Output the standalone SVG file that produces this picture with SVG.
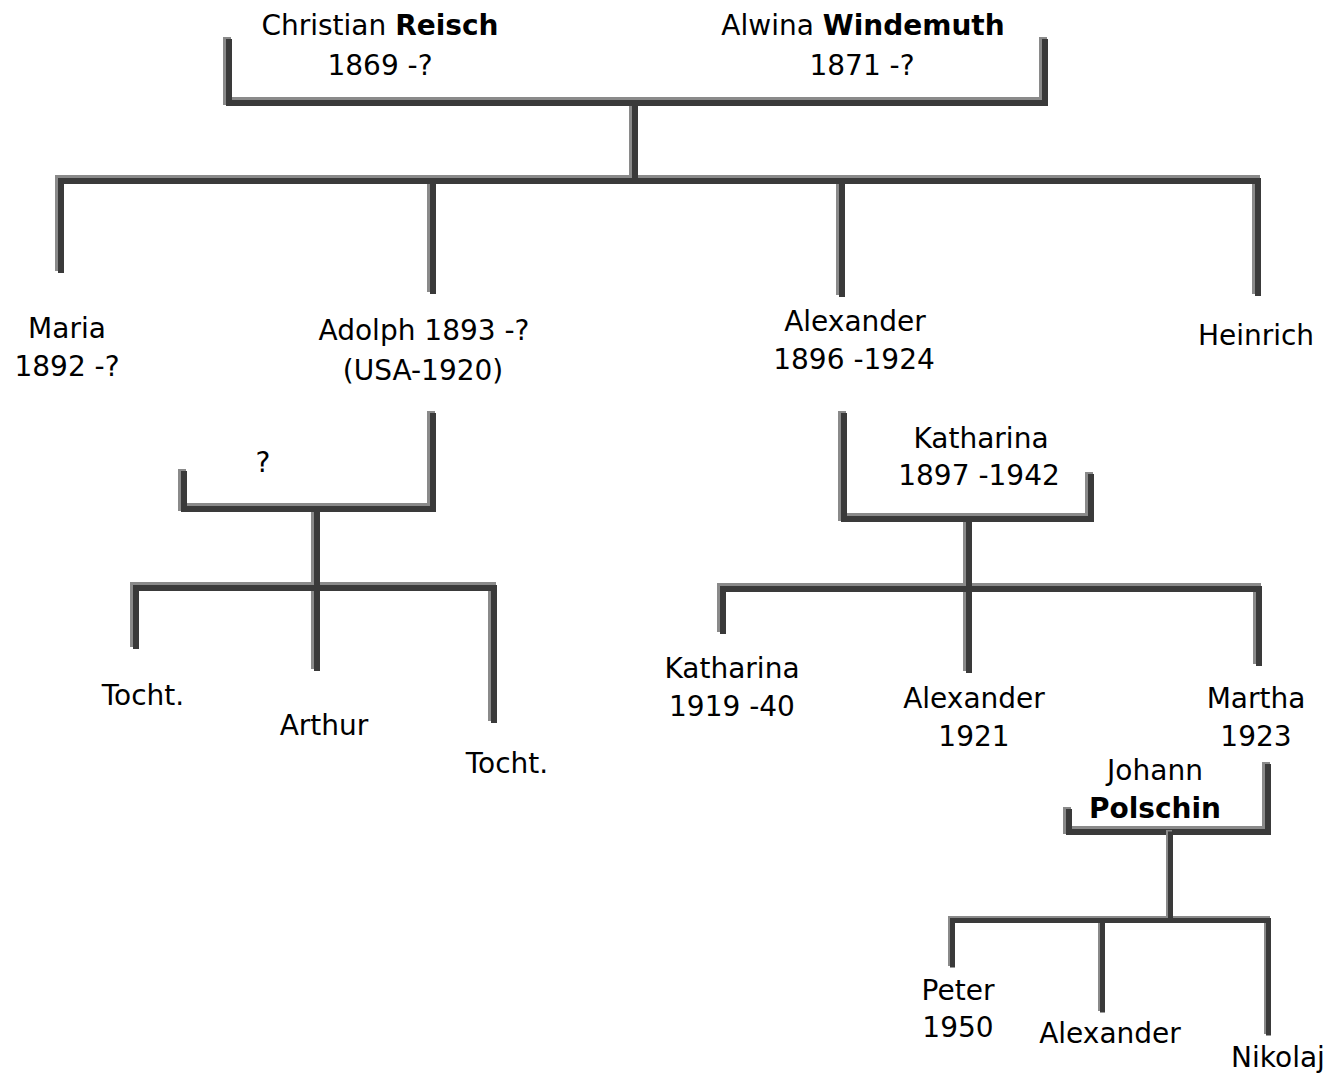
<svg xmlns="http://www.w3.org/2000/svg" xmlns:xlink="http://www.w3.org/1999/xlink" width="1334" height="1081" viewBox="0 0 1334 1081">
<style>
text { font-family: "Comic Sans MS", "DejaVu Sans", sans-serif; font-size: 28px; fill: #000; text-anchor: middle; }
.b { font-weight: bold; }
.hi { fill: none; stroke: #8a8a8a; stroke-width: 8; stroke-linejoin: miter; }
.dk { fill: none; stroke: #3a3a3a; stroke-width: 6; stroke-linejoin: miter; }
.hi2 { fill: none; stroke: #8a8a8a; stroke-width: 6; }
.dk2 { fill: none; stroke: #3a3a3a; stroke-width: 5; }
</style>
<defs>
<g id="big">
<path d="M228,38 V102 H1044 V38"/>
<path d="M634,102 V180"/>
<path d="M60,272 V180 H1257 V295"/>
<path d="M432,180 V293"/>
<path d="M841,180 V296"/>
<path d="M183,470 V508 H432 V412"/>
<path d="M316,508 V670"/>
<path d="M135,648 V587 H493 V722"/>
<path d="M843,412 V518 H1090 V473"/>
<path d="M968,518 V672"/>
<path d="M722,633 V588 H1258 V665"/>
<path d="M1068,808 V831 H1267 V763"/>
</g>
<g id="small">
<path d="M1170,831 V920"/>
<path d="M952,967 V920 H1268 V1035"/>
<path d="M1102,920 V1012"/>
</g>
</defs>
<g id="connectors">
<use xlink:href="#big" class="hi" transform="translate(-1,-1)"/>
<use xlink:href="#big" class="dk" transform="translate(1,1)"/>
<use xlink:href="#small" class="hi2" transform="translate(-1,-1)"/>
<use xlink:href="#small" class="dk2" transform="translate(0.5,0.5)"/>
</g>
<g id="christian"><text x="380" y="35">Christian <tspan class="b">Reisch</tspan></text><text x="380" y="75">1869 -?</text></g>
<g id="alwina"><text x="863" y="35">Alwina <tspan class="b">Windemuth</tspan></text><text x="862" y="75">1871 -?</text></g>
<g id="maria"><text x="67" y="338">Maria</text><text x="67" y="376">1892 -?</text></g>
<g id="adolph"><text x="424" y="340">Adolph 1893 -?</text><text x="423" y="380">(USA-1920)</text></g>
<g id="alexander1896"><text x="855" y="331">Alexander</text><text x="854" y="369">1896 -1924</text></g>
<g id="heinrich"><text x="1256" y="345">Heinrich</text></g>
<g id="unknown-spouse"><text x="263" y="472">?</text></g>
<g id="katharina1897"><text x="981" y="448">Katharina</text><text x="979" y="485">1897 -1942</text></g>
<g id="tocht1"><text x="143" y="705">Tocht.</text></g>
<g id="arthur"><text x="324" y="735">Arthur</text></g>
<g id="tocht2"><text x="507" y="773">Tocht.</text></g>
<g id="katharina1919"><text x="732" y="678">Katharina</text><text x="732" y="716">1919 -40</text></g>
<g id="alexander1921"><text x="974" y="708">Alexander</text><text x="974" y="746">1921</text></g>
<g id="martha"><text x="1256" y="708">Martha</text><text x="1256" y="746">1923</text></g>
<g id="johann"><text x="1155" y="780">Johann</text><text x="1155" y="818" class="b">Polschin</text></g>
<g id="peter"><text x="958" y="1000">Peter</text><text x="958" y="1037">1950</text></g>
<g id="alexander-jr"><text x="1110" y="1043">Alexander</text></g>
<g id="nikolaj"><text x="1278" y="1067">Nikolaj</text></g>
</svg>
